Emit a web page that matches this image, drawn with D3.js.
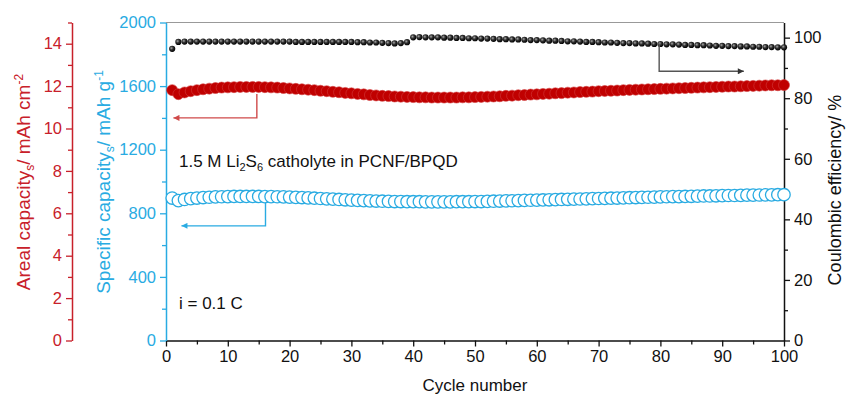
<!DOCTYPE html>
<html>
<head>
<meta charset="utf-8">
<script src="https://cdn.jsdelivr.net/npm/d3@7"></script>
<style>
  body { margin: 0; background: #fff; }
  svg { font-family: "Liberation Sans", Arial, sans-serif; }
</style>
</head>
<body>
<div id="chart"></div>
<script>
// cycle data
const cycles = d3.range(1, 101);
const areal = [
  11.81,11.62,11.70,11.76,11.81,11.85,11.88,11.91,11.93,11.94,
  11.95,11.96,11.96,11.96,11.96,11.95,11.94,11.93,11.91,11.89,
  11.87,11.85,11.83,11.81,11.78,11.76,11.73,11.71,11.68,11.66,
  11.63,11.61,11.58,11.56,11.54,11.53,11.51,11.50,11.49,11.48,
  11.47,11.47,11.46,11.46,11.46,11.46,11.46,11.47,11.47,11.48,
  11.49,11.50,11.51,11.52,11.54,11.55,11.57,11.58,11.60,11.61,
  11.63,11.64,11.66,11.67,11.69,11.70,11.72,11.73,11.74,11.76,
  11.77,11.78,11.79,11.81,11.82,11.83,11.84,11.85,11.86,11.87,
  11.88,11.89,11.90,11.91,11.92,11.93,11.94,11.95,11.96,11.97,
  11.98,11.98,11.99,12.00,12.01,12.02,12.03,12.04,12.04,12.05];
const specific = [
  896,880,887,892,896,899,901,903,904,905,
  906,906,906,906,906,905,905,904,903,902,
  900,899,897,895,893,891,889,887,885,883,
  881,880,878,877,876,875,874,874,873,873,
  873,872,872,872,872,872,873,873,873,874,
  874,875,876,877,878,879,880,881,882,883,
  884,885,886,887,888,889,890,891,892,893,
  894,895,896,897,898,899,900,901,902,903,
  904,905,905,906,907,908,909,909,910,911,
  912,912,913,914,914,915,916,916,917,917];
const ce = [
  96.3,98.6,98.7,98.7,98.7,98.7,98.7,98.7,98.7,98.7,
  98.7,98.7,98.7,98.7,98.7,98.7,98.7,98.7,98.7,98.7,
  98.6,98.6,98.6,98.6,98.6,98.6,98.6,98.6,98.6,98.6,
  98.5,98.5,98.4,98.4,98.3,98.2,98.1,98.2,98.5,100.1,
  100.2,100.1,100.1,100.1,100.0,100.0,99.9,99.9,99.8,99.8,
  99.7,99.7,99.6,99.5,99.5,99.4,99.4,99.3,99.2,99.2,
  99.1,99.0,99.0,98.9,98.8,98.8,98.7,98.6,98.6,98.5,
  98.4,98.4,98.3,98.2,98.2,98.1,98.1,98.0,97.9,97.9,
  97.8,97.8,97.7,97.6,97.6,97.5,97.5,97.4,97.3,97.3,
  97.2,97.2,97.1,97.1,97.0,97.0,96.9,96.9,96.8,96.8];

const xTicks = d3.range(0, 101, 10);
const arealTicks = d3.range(0, 15, 2);
const specTicks = d3.range(0, 2001, 400);
const ceTicks = d3.range(0, 101, 20);

const red = "#c00000", redAxis = "#c8202a", blue = "#29abe2";

const W = 847, H = 396;
const pL = 166, pR = 784, pT = 22.5, pB = 340.5;

const svg = d3.select("#chart").append("svg")
  .attr("width", W).attr("height", H);

const x = d3.scaleLinear().domain([0, 100]).range([pL, pR]);
const yA = d3.scaleLinear().domain([0, 15]).range([pB, pT]);
const yS = d3.scaleLinear().domain([0, 2000]).range([pB, pT]);
const yC = d3.scaleLinear().domain([0, 105]).range([pB, pT]);
const fmt = d3.format("d");

// gradient for the black CE markers
const defs = svg.append("defs");
const grad = defs.append("radialGradient").attr("id", "ball")
  .attr("cx", "38%").attr("cy", "38%").attr("r", "62%");
grad.append("stop").attr("offset", "0%").attr("stop-color", "#aaa");
grad.append("stop").attr("offset", "45%").attr("stop-color", "#333");
grad.append("stop").attr("offset", "100%").attr("stop-color", "#000");

function arrowHead(id, col) {
  defs.append("marker").attr("id", id)
    .attr("viewBox", "0 0 10 10").attr("refX", 10).attr("refY", 5)
    .attr("markerWidth", 9).attr("markerHeight", 6)
    .attr("markerUnits", "userSpaceOnUse")
    .attr("orient", "auto")
    .append("path").attr("d", "M0,0L10,5L0,10z").attr("fill", col);
}
arrowHead("arR", "#d04a4a");
arrowHead("arB", blue);
arrowHead("arK", "#333");

// frame: top line
svg.append("line").attr("x1", pL).attr("x2", pR)
  .attr("y1", pT).attr("y2", pT)
  .attr("stroke", "#999").attr("stroke-width", 1);

function styleAxis(g, col) {
  g.selectAll("path,line").attr("stroke", col).attr("stroke-width", 1.3);
  g.selectAll("text").attr("fill", col).style("font-size", "16.5px");
  g.select(".domain").attr("stroke-width", 1.5);
}

// bottom axis
svg.append("g").attr("transform", `translate(0,${pB})`)
  .call(d3.axisBottom(x).tickValues(xTicks).tickFormat(fmt).tickSize(6).tickSizeOuter(0).tickPadding(4))
  .call(styleAxis, "#111");
svg.append("g").attr("transform", `translate(0,${pB})`)
  .call(d3.axisBottom(x).tickValues(d3.range(5, 100, 10)).tickSize(4).tickFormat(""))
  .call(g => g.select(".domain").remove())
  .call(styleAxis, "#111");

// right axis (CE)
svg.append("g").attr("transform", `translate(${pR},0)`)
  .call(d3.axisRight(yC).tickValues(ceTicks).tickFormat(fmt).tickSize(6).tickSizeOuter(0).tickPadding(4))
  .call(styleAxis, "#111");
svg.append("g").attr("transform", `translate(${pR},0)`)
  .call(d3.axisRight(yC).tickValues(d3.range(10, 101, 20)).tickSize(4).tickFormat(""))
  .call(g => g.select(".domain").remove())
  .call(styleAxis, "#111");

// blue axis (specific capacity)
svg.append("g").attr("transform", `translate(${pL},0)`)
  .call(d3.axisLeft(yS).tickValues(specTicks).tickFormat(fmt).tickSize(6).tickSizeOuter(0).tickPadding(4))
  .call(styleAxis, blue);
svg.append("g").attr("transform", `translate(${pL},0)`)
  .call(d3.axisLeft(yS).tickValues(d3.range(200, 2000, 400)).tickSize(4).tickFormat(""))
  .call(g => g.select(".domain").remove())
  .call(styleAxis, blue);

// red axis (areal capacity)
const redX = 72;
svg.append("g").attr("transform", `translate(${redX},0)`)
  .call(d3.axisLeft(yA).tickValues(arealTicks).tickFormat(fmt).tickSize(6).tickSizeOuter(0).tickPadding(4))
  .call(styleAxis, redAxis);
svg.append("g").attr("transform", `translate(${redX},0)`)
  .call(d3.axisLeft(yA).tickValues(d3.range(1, 16, 2)).tickSize(4).tickFormat(""))
  .call(g => g.select(".domain").remove())
  .call(styleAxis, redAxis);

// data markers
svg.append("g").selectAll("circle").data(cycles).join("circle")
  .attr("cx", (d) => x(d)).attr("cy", (d, i) => yA(areal[i]))
  .attr("r", 5.5).attr("fill", red).attr("stroke", "#d23a3a").attr("stroke-width", 0.6);

svg.append("g").selectAll("circle").data(cycles).join("circle")
  .attr("cx", (d) => x(d)).attr("cy", (d, i) => yS(specific[i]))
  .attr("r", 6.2).attr("fill", "#fff").attr("stroke", blue).attr("stroke-width", 1.3);

svg.append("g").selectAll("circle").data(cycles).join("circle")
  .attr("cx", (d) => x(d)).attr("cy", (d, i) => yC(ce[i]))
  .attr("r", 3.1).attr("fill", "url(#ball)");

// pointer arrows
function pointer(pts, col, id) {
  svg.append("path")
    .attr("d", d3.line()(pts))
    .attr("fill", "none").attr("stroke", col).attr("stroke-width", 1.4)
    .attr("marker-end", `url(#${id})`);
}
pointer([[x(14.7), yA(11.63)], [x(14.7), yA(10.5)], [x(1.2), yA(10.5)]], "#d04a4a", "arR");
pointer([[x(16.1), yS(866)], [x(16.1), yS(721)], [x(2.5), yS(721)]], blue, "arB");
pointer([[x(79.8), yC(98.1)], [x(79.8), yC(88.9)], [x(93.5), yC(88.9)]], "#555", "arK");

// notes
const note = svg.append("text").attr("x", 179).attr("y", 167)
  .attr("fill", "#111").style("font-size", "17px");
note.append("tspan").text("1.5 M Li");
note.append("tspan").text("2").attr("dy", 4).style("font-size", "11px");
note.append("tspan").text("S").attr("dy", -4);
note.append("tspan").text("6").attr("dy", 4).style("font-size", "11px");
note.append("tspan").text(" catholyte in PCNF/BPQD").attr("dy", -4);

svg.append("text").attr("x", 179).attr("y", 309)
  .attr("fill", "#111").style("font-size", "17px").text("i = 0.1 C");

// axis titles
svg.append("text").attr("x", (pL + pR) / 2).attr("y", 391)
  .attr("text-anchor", "middle").attr("fill", "#111")
  .style("font-size", "17px").text("Cycle number");

function yTitle(cx, cy, col, size, parts) {
  const t = svg.append("text")
    .attr("transform", `translate(${cx},${cy}) rotate(-90)`)
    .attr("text-anchor", "middle").attr("fill", col)
    .style("font-size", size + "px");
  parts.forEach(p => {
    t.append("tspan").text(p[0])
      .attr("dy", p[1] || 0)
      .style("font-size", (p[2] || size) + "px");
  });
}
yTitle(30, 182, redAxis, 19, [["Areal capacity"], ["s", 4, 12], ["/ mAh cm", -4], ["-2", -7, 12]]);
yTitle(110, 182, blue, 19, [["Specific capacity"], ["s", 4, 12], ["/ mAh g", -4], ["-1", -7, 12]]);
yTitle(841, 190, "#111", 18, [["Coulombic efficiency/ %"]]);
</script>
</body>
</html>
